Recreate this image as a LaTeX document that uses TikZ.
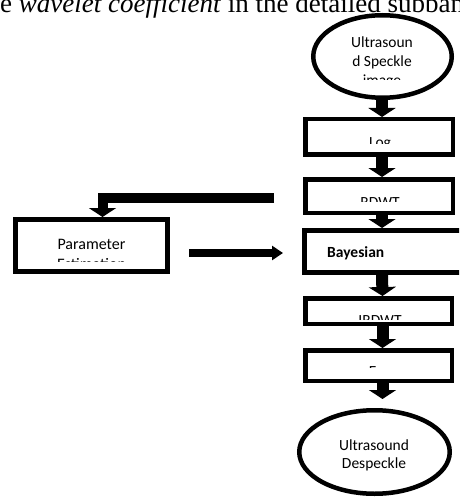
\documentclass[tikz,border=0pt]{standalone}
\usepackage{fontspec}
\setmainfont{Carlito}
\newfontfamily\serifhead{Liberation Serif}
\usetikzlibrary{arrows.meta,shapes.geometric}
\begin{document}
\begin{tikzpicture}[x=1pt,y=-1pt,
  box/.style={draw, line width=4.5pt, rectangle, inner sep=0pt},
  oval/.style={draw, line width=4.5pt, ellipse, inner sep=0pt},
  flow/.style={line width=12pt, -{Triangle[width=27pt,length=9pt]}},
  lbl/.style={font=\fontsize{15.5}{19}\selectfont, anchor=base, inner sep=0pt},
  head/.style={font=\serifhead\fontsize{27}{31}\selectfont, anchor=base west, inner sep=0pt}]
\useasboundingbox (0,0) rectangle (459,497);
\clip (0,0) rectangle (459,497);

% running text at the top of the page
\node[head] (headline) at (0,12.5) {e \textit{wavelet coefficient} in the detailed subband};

% shapes
\node[oval, minimum width=138.5pt, minimum height=82.5pt] (src) at (382.5,56.5) {};
\node[box, minimum width=147.5pt, minimum height=35.5pt] (log) at (379,137) {};
\node[box, minimum width=147.5pt, minimum height=33.5pt] (rdwt) at (379,196) {};
\node[box, line width=5pt, minimum width=166pt, minimum height=42pt] (bay) at (387.5,251.5) {};
\node[box, minimum width=146.5pt, minimum height=25.5pt] (irdwt) at (378.5,311) {};
\node[box, minimum width=146.5pt, minimum height=30.5pt] (exp) at (378.5,365.5) {};
\node[box, line width=5pt, minimum width=152pt, minimum height=52pt] (param) at (91.5,245.5) {};
\node[oval, minimum width=150.5pt, minimum height=83.5pt] (out) at (374.5,452) {};

% texts (clipped as in the picture)
\node[lbl] (srcA) at (382,48) {Ultrasoun};
\node[lbl] (srcB) at (382,67) {d Speckle};
\begin{scope}\clip (300,0) rectangle (459,79.5);
  \node[lbl] (srcC) at (382,86) {image};
\end{scope}
\begin{scope}\clip (300,120) rectangle (459,143.5);
  \node[lbl] (logt) at (380,147) {Log};
\end{scope}
\begin{scope}\clip (300,180) rectangle (459,201.5);
  \node[lbl] (rdwtt) at (380,207) {RDWT};
\end{scope}
\node[lbl, anchor=base west, font=\bfseries\fontsize{15.5}{19}\selectfont] (bayt) at (327,257.5) {Bayesian};
\begin{scope}\clip (300,300) rectangle (459,319);
  \node[lbl] (irdwtt) at (380,325) {IRDWT};
\end{scope}
\begin{scope}\clip (300,352) rectangle (459,367.5);
  \node[lbl] (expt) at (380,376) {Exp};
\end{scope}
\node[lbl, font=\fontsize{16}{20}\selectfont] (parA) at (91.5,249) {Parameter};
\begin{scope}\clip (15,222) rectangle (168,261.5);
  \node[lbl, font=\fontsize{16}{20}\selectfont] (parB) at (91.5,269.5) {Estimation};
\end{scope}
\node[lbl] (outA) at (374,450) {Ultrasound};
\node[lbl] (outB) at (374,468) {Despeckle};

% connectors
\draw[flow] ([xshift=-0.5pt]src.south) -- ([xshift=3pt]log.north);
\draw[flow] ([xshift=3pt]log.south) -- ([xshift=3pt]rdwt.north);
\draw[flow] ([xshift=3pt]rdwt.south) -- ([xshift=-5.5pt]bay.north);
\draw[flow] ([xshift=-5.5pt]bay.south) -- ([xshift=4pt]irdwt.north);
\draw[flow] ([xshift=4pt]irdwt.south) -- ([xshift=4pt]exp.north);
\draw[flow, shorten >=9pt] ([xshift=4pt]exp.south) -- ([xshift=8pt]out.north);

\coordinate (fb) at (274,197.5);
\draw[line width=10pt, line join=miter, -{Triangle[width=27pt,length=9pt]}]
  (fb) -| ([xshift=11pt]param.north);

\coordinate (pa) at (189,253);
\coordinate (pb) at (283,253);
\draw[line width=8pt, -{Triangle[width=14pt,length=11pt]}] (pa) -- (pb);
\end{tikzpicture}
\end{document}
